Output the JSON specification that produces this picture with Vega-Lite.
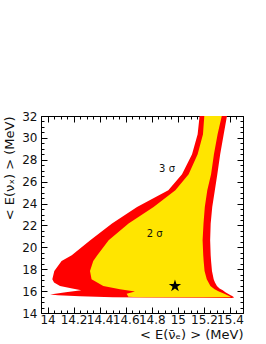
{
  "$schema": "https://vega.github.io/schema/vega-lite/v6.json",
  "width": 202,
  "height": 197,
  "autosize": {"type": "none"},
  "padding": {"left": 41, "top": 116, "right": 23, "bottom": 31},
  "background": "white",
  "config": {"view": {"stroke": "#000", "strokeWidth": 1}, "font": "DejaVu Sans"},
  "datasets": {
    "red": [
      {"y": 15.36, "xl": 15.38, "xr": 15.41},
      {"y": 15.385, "xl": 15.2, "xr": 15.425},
      {"y": 15.41, "xl": 14.75, "xr": 15.43},
      {"y": 15.45, "xl": 14.5, "xr": 15.43},
      {"y": 15.53, "xl": 14.25, "xr": 15.42},
      {"y": 15.62, "xl": 14.08, "xr": 15.405},
      {"y": 15.7, "xl": 14.02, "xr": 15.395},
      {"y": 15.9, "xl": 14.14, "xr": 15.365},
      {"y": 16.07, "xl": 14.259, "xr": 15.345},
      {"y": 16.25, "xl": 14.19, "xr": 15.32},
      {"y": 16.47, "xl": 14.096, "xr": 15.3},
      {"y": 16.78, "xl": 14.05, "xr": 15.285},
      {"y": 17.08, "xl": 14.037, "xr": 15.275},
      {"y": 17.84, "xl": 14.052, "xr": 15.262},
      {"y": 18.75, "xl": 14.108, "xr": 15.255},
      {"y": 19.27, "xl": 14.186, "xr": 15.252},
      {"y": 20.64, "xl": 14.328, "xr": 15.248},
      {"y": 22.17, "xl": 14.495, "xr": 15.252},
      {"y": 23.69, "xl": 14.687, "xr": 15.264},
      {"y": 25.21, "xl": 14.927, "xr": 15.284},
      {"y": 26.67, "xl": 15.032, "xr": 15.303},
      {"y": 28.5, "xl": 15.109, "xr": 15.325},
      {"y": 30.33, "xl": 15.152, "xr": 15.352},
      {"y": 32.0, "xl": 15.167, "xr": 15.377}
    ],
    "yellow": [
      {"y": 15.44, "xl": 14.7, "xr": 15.405},
      {"y": 15.49, "xl": 14.62, "xr": 15.405},
      {"y": 15.6, "xl": 14.615, "xr": 15.385},
      {"y": 15.77, "xl": 14.607, "xr": 15.357},
      {"y": 15.96, "xl": 14.671, "xr": 15.315},
      {"y": 16.17, "xl": 14.556, "xr": 15.282},
      {"y": 16.47, "xl": 14.428, "xr": 15.25},
      {"y": 17.08, "xl": 14.338, "xr": 15.222},
      {"y": 17.84, "xl": 14.326, "xr": 15.205},
      {"y": 18.75, "xl": 14.351, "xr": 15.198},
      {"y": 19.27, "xl": 14.382, "xr": 15.195},
      {"y": 20.64, "xl": 14.469, "xr": 15.19},
      {"y": 22.17, "xl": 14.622, "xr": 15.197},
      {"y": 23.69, "xl": 14.814, "xr": 15.207},
      {"y": 25.21, "xl": 14.981, "xr": 15.226},
      {"y": 26.67, "xl": 15.083, "xr": 15.255},
      {"y": 28.5, "xl": 15.152, "xr": 15.277},
      {"y": 30.33, "xl": 15.193, "xr": 15.305},
      {"y": 32.0, "xl": 15.203, "xr": 15.337}
    ],
    "star": [{"x": 14.978, "y": 16.47}],
    "labels": [
      {"x": 14.917, "y": 27.2, "label": "3 σ"},
      {"x": 14.822, "y": 21.26, "label": "2 σ"}
    ]
  },
  "layer": [
    {
      "data": {"name": "red"},
      "mark": {"type": "area", "orient": "horizontal", "color": "#ff0000", "clip": true},
      "encoding": {
        "y": {
          "field": "y", "type": "quantitative",
          "scale": {"domain": [14, 32], "nice": false, "zero": false},
          "axis": {
            "orient": "left",
            "values": [14, 14.5, 15, 15.5, 16, 16.5, 17, 17.5, 18, 18.5, 19, 19.5, 20, 20.5, 21, 21.5, 22, 22.5, 23, 23.5, 24, 24.5, 25, 25.5, 26, 26.5, 27, 27.5, 28, 28.5, 29, 29.5, 30, 30.5, 31, 31.5, 32],
            "domain": false, "grid": false,
            "tickColor": "#000", "tickWidth": 1,
            "tickSize": {"condition": {"test": "abs(datum.value/2-round(datum.value/2))<0.01", "value": -6}, "value": -3},
            "labelExpr": "abs(datum.value/2-round(datum.value/2))<0.01 ? format(datum.value,'d') : ''",
            "labelOverlap": false, "labelFlush": false, "labelBound": false,
            "labelPadding": 10, "labelFontSize": 12, "labelColor": "#111",
            "title": "< E(νₓ) > (MeV)", "titleAnchor": "end", "titleFontSize": 13,
            "titleFontWeight": "normal", "titleColor": "#111", "titlePadding": 5
          }
        },
        "x": {
          "field": "xl", "type": "quantitative",
          "scale": {"domain": [13.95, 15.5], "nice": false, "zero": false},
          "axis": {
            "orient": "bottom",
            "values": [13.95, 14, 14.05, 14.1, 14.15, 14.2, 14.25, 14.3, 14.35, 14.4, 14.45, 14.5, 14.55, 14.6, 14.65, 14.7, 14.75, 14.8, 14.85, 14.9, 14.95, 15, 15.05, 15.1, 15.15, 15.2, 15.25, 15.3, 15.35, 15.4, 15.45, 15.5],
            "domain": false, "grid": false,
            "tickColor": "#000", "tickWidth": 1,
            "tickSize": {"condition": {"test": "abs(datum.value*5-round(datum.value*5))<0.01", "value": -6}, "value": -3},
            "labelExpr": "abs(datum.value*5-round(datum.value*5))<0.01 ? format(datum.value,'~g') : ''",
            "labelOverlap": false, "labelFlush": false, "labelBound": false,
            "labelPadding": 7, "labelFontSize": 12, "labelColor": "#111",
            "title": "< E(ν̄ₑ) > (MeV)", "titleAnchor": "end", "titleFontSize": 13,
            "titleFontWeight": "normal", "titleColor": "#111", "titlePadding": 0
          }
        },
        "x2": {"field": "xr"}
      }
    },
    {
      "data": {"name": "yellow"},
      "mark": {"type": "area", "orient": "horizontal", "color": "#ffe500", "clip": true},
      "encoding": {
        "y": {
          "field": "y", "type": "quantitative",
          "axis": {
            "orient": "right",
            "values": [14, 14.5, 15, 15.5, 16, 16.5, 17, 17.5, 18, 18.5, 19, 19.5, 20, 20.5, 21, 21.5, 22, 22.5, 23, 23.5, 24, 24.5, 25, 25.5, 26, 26.5, 27, 27.5, 28, 28.5, 29, 29.5, 30, 30.5, 31, 31.5, 32],
            "domain": false, "grid": false, "labels": false, "title": null,
            "tickColor": "#000", "tickWidth": 1,
            "tickSize": {"condition": {"test": "abs(datum.value/2-round(datum.value/2))<0.01", "value": -6}, "value": -3}
          }
        },
        "x": {
          "field": "xl", "type": "quantitative",
          "axis": {
            "orient": "top",
            "values": [13.95, 14, 14.05, 14.1, 14.15, 14.2, 14.25, 14.3, 14.35, 14.4, 14.45, 14.5, 14.55, 14.6, 14.65, 14.7, 14.75, 14.8, 14.85, 14.9, 14.95, 15, 15.05, 15.1, 15.15, 15.2, 15.25, 15.3, 15.35, 15.4, 15.45, 15.5],
            "domain": false, "grid": false, "labels": false, "title": null,
            "tickColor": "#000", "tickWidth": 1,
            "tickSize": {"condition": {"test": "abs(datum.value*5-round(datum.value*5))<0.01", "value": -6}, "value": -3}
          }
        },
        "x2": {"field": "xr"}
      }
    },
    {
      "data": {"name": "star"},
      "mark": {"type": "point", "shape": "M0,-1L0.225,-0.309L0.951,-0.309L0.363,0.118L0.588,0.809L0,0.382L-0.588,0.809L-0.363,0.118L-0.951,-0.309L-0.225,-0.309Z", "filled": true, "color": "#000", "opacity": 1, "size": 170},
      "encoding": {
        "x": {"field": "x", "type": "quantitative", "axis": null},
        "y": {"field": "y", "type": "quantitative", "axis": null}
      }
    },
    {
      "data": {"name": "labels"},
      "mark": {"type": "text", "fontSize": 10, "color": "#111", "align": "center", "baseline": "middle"},
      "encoding": {
        "x": {"field": "x", "type": "quantitative", "axis": null},
        "y": {"field": "y", "type": "quantitative", "axis": null},
        "text": {"field": "label"}
      }
    }
  ],
  "resolve": {"axis": {"x": "independent", "y": "independent"}}
}
